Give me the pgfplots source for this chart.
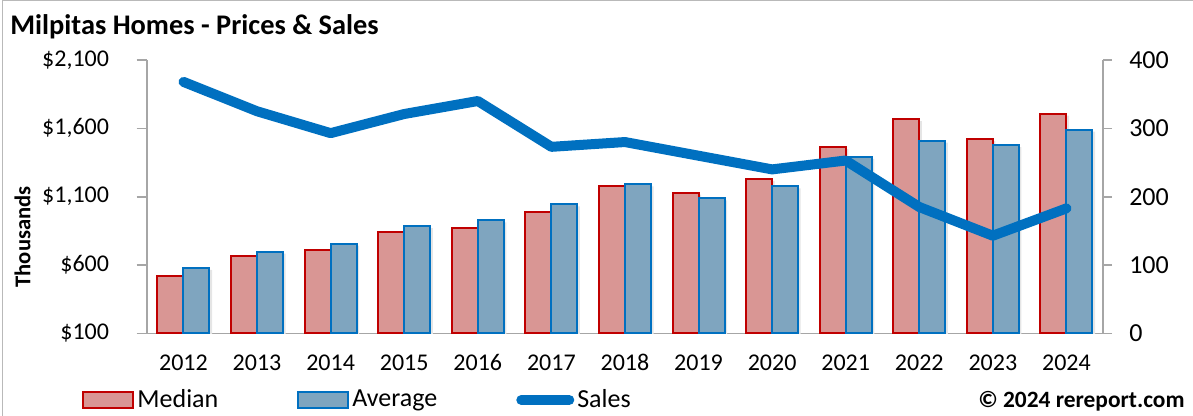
\documentclass[border=0pt]{standalone}
\usepackage{fontspec}
\setmainfont{Carlito}
\usepackage{pgfplots}
\usepackage{pgfplotstable}
\pgfplotsset{compat=1.18}
\definecolor{medfill}{HTML}{D99694}
\definecolor{medline}{HTML}{C00000}
\definecolor{avgfill}{HTML}{7FA5BF}
\definecolor{avgline}{HTML}{0070C0}
\definecolor{salesline}{HTML}{0070C0}
\definecolor{axgray}{HTML}{A6A6A6}

\pgfplotstableread{
x median average sales
0 523 580 368
1 669 698 325
2 713 757 293
3 845 886 321
4 871 927 340
5 988 1044 273
6 1175 1190 280
7 1131 1088 260
8 1231 1175 240
9 1463 1392 253
10 1667 1511 185
11 1521 1477 143
12 1707 1590 183
}\data

\begin{document}
\begin{tikzpicture}
\path[use as bounding box] (0,0) rectangle (596.5pt,208pt);
\draw[gray!55, line width=0.7pt] (1.3pt,0pt) -- (1.3pt,207.6pt) -- (596.5pt,207.6pt);
\node[anchor=base west, font=\bfseries\fontsize{14.2}{17}\selectfont, inner sep=0pt] at (5pt,190.5pt) {Milpitas Homes - Prices \& Sales};
\node[anchor=base east, font=\bfseries\fontsize{11.7}{14}\selectfont, inner sep=0pt] at (592.5pt,4pt) {© 2024 rereport.com};

\begin{axis}[
  at={(73.35pt,41.25pt)}, anchor=south west,
  scale only axis, width=478.25pt, height=136.75pt,
  xmin=-0.5, xmax=12.5, ymin=100, ymax=2100,
  ybar=0pt, bar width=13pt,
  axis y line*=left, axis x line*=bottom,
  axis line style={axgray, line width=0.8pt},
  /pgf/number format/assume math mode=true,
  xtick={0,...,12},
  xticklabels={2012,2013,2014,2015,2016,2017,2018,2019,2020,2021,2022,2023,2024},
  x tick style={draw=none},
  ytick={100,600,1100,1600,2100},
  yticklabels={\$100,\$600,{\$1,100},{\$1,600},{\$2,100}},
  y tick style={axgray, line width=0.8pt},
  tick align=outside, major tick length=5pt,
  tick label style={font=\fontsize{12}{14}\selectfont},
  yticklabel style={xshift=-10.3pt},
  xticklabel style={yshift=-2.25pt, text height=7.6pt, text depth=0pt},
  ylabel={Thousands},
  ylabel style={font=\bfseries\fontsize{11.3}{13}\selectfont, at={(axis description cs:-0.1299,0.353)}, anchor=center},
]
\addplot[fill=medfill, draw=medline, line width=1pt,
  preaction={fill=black!10, draw=none, transform canvas={xshift=1.3pt, yshift=-1pt}}] table[x=x,y=median]{\data};
\addplot[fill=avgfill, draw=avgline, line width=1pt,
  preaction={fill=black!10, draw=none, transform canvas={xshift=1.3pt, yshift=-1pt}}] table[x=x,y=average]{\data};
\end{axis}

\begin{axis}[
  at={(73.35pt,41.25pt)}, anchor=south west,
  scale only axis, width=478.25pt, height=136.75pt,
  xmin=-0.5, xmax=12.5, ymin=0, ymax=400,
  axis y line*=right, hide x axis,
  axis line style={axgray, line width=0.8pt},
  /pgf/number format/assume math mode=true,
  ytick={0,100,200,300,400},
  y tick style={axgray, line width=0.8pt},
  tick align=outside, major tick length=4.5pt,
  tick label style={font=\fontsize{13}{15}\selectfont},
  yticklabel style={xshift=5pt},
  legend columns=3,
  legend style={at={(axis description cs:-0.0676,-0.2431)}, anchor=west, draw=none, fill=none, inner sep=0pt,
    font=\fontsize{13}{15}\selectfont, nodes={inner xsep=1.5pt, inner ysep=0pt},
    /tikz/every even column/.append style={column sep=38pt}},
]
\addlegendimage{legend image code/.code={\draw[fill=medfill,draw=medline,line width=1pt] (0pt,-4pt) rectangle (25pt,4pt);}}
\addlegendentry{Median}
\addlegendimage{legend image code/.code={\draw[fill=avgfill,draw=avgline,line width=1pt] (0pt,-4pt) rectangle (25pt,4pt);}}
\addlegendentry{Average}
\addplot[salesline, line width=5pt, line cap=round, line join=round,
  legend image code/.code={\draw[salesline, line width=5pt, line cap=round] (2.5pt,0pt) -- (26.5pt,0pt);}]
  table[x=x,y=sales]{\data};
\addlegendentry{Sales}
\end{axis}
\end{tikzpicture}
\end{document}
